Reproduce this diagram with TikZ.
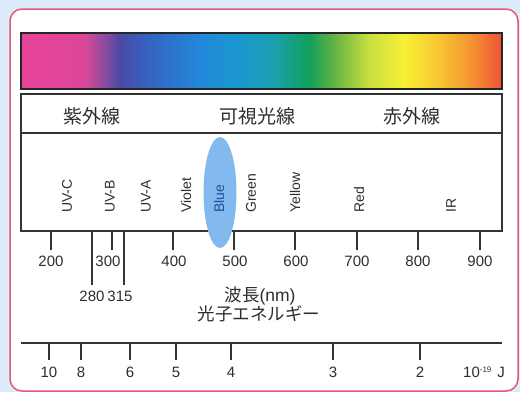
\documentclass[tikz,border=0pt]{standalone}
\usepackage{fontspec}
\setmainfont{Liberation Sans}
\newfontfamily\jp{Noto Sans CJK JP}
\definecolor{bgblue}{HTML}{DDECF9}
\definecolor{bordpink}{HTML}{E0587A}
\definecolor{linegray}{HTML}{333333}
\definecolor{txtgray}{HTML}{2E2E2E}
\definecolor{ellblue}{HTML}{82B9EE}
\definecolor{navy}{HTML}{1F4E99}
\definecolor{sa}{HTML}{E8439A}
\definecolor{sb}{HTML}{DC4698}
\definecolor{sc}{HTML}{8C4C9E}
\definecolor{sd}{HTML}{4B4AA6}
\definecolor{se}{HTML}{3464C2}
\definecolor{sf}{HTML}{2288DA}
\definecolor{sg}{HTML}{1A98CE}
\definecolor{sh}{HTML}{1AA0AC}
\definecolor{si}{HTML}{12A05A}
\definecolor{sj}{HTML}{66B442}
\definecolor{sk}{HTML}{CCE040}
\definecolor{sl}{HTML}{F8F034}
\definecolor{sm}{HTML}{F8C432}
\definecolor{sn}{HTML}{F59432}
\definecolor{so}{HTML}{EE5236}
\pgfdeclarehorizontalshading{spectrum}{100bp}{color(0bp)=(sa); color(25bp)=(sa); color(31.6bp)=(sb); color(33.7bp)=(sc); color(35.3bp)=(sd); color(38.4bp)=(se); color(43.6bp)=(sf); color(47.8bp)=(sg); color(51.4bp)=(sh); color(55bp)=(si); color(57.6bp)=(sj); color(61.3bp)=(sk); color(64.9bp)=(sl); color(68.6bp)=(sm); color(71.7bp)=(sn); color(75bp)=(so); color(100bp)=(so)}
\begin{document}
\begin{tikzpicture}[x=1pt,y=-1pt,
  boxline/.style={line width=1.5pt, draw=linegray},
  tickline/.style={line width=1.4pt, draw=linegray},
  num/.style={inner sep=0pt, text=txtgray, font=\fontsize{15}{15}\selectfont},
  band/.style={rotate=90, anchor=west, inner sep=0pt, text=txtgray, font=\fontsize{14}{14}\selectfont},
  jplabel/.style={inner sep=0pt, text=txtgray, font=\jp\fontsize{19}{19}\selectfont},
  jpsub/.style={inner sep=0pt, text=txtgray, font=\fontsize{17.5}{17.5}\selectfont}]
\useasboundingbox (0,0) rectangle (520,392);
\fill[bgblue] (0,0) rectangle (520,392);
\draw[line width=1.5pt, draw=bordpink, fill=white, rounded corners=12pt] (10,9) rectangle (518,391);
% spectrum bar
\shade[shading=spectrum] (21,33) rectangle (502,89);
\draw[line width=1.6pt, draw=black!85] (21,33) rectangle (502,89);
% label box
\draw[boxline] (21,231) -- (21,94) -- (502,94) -- (502,231) -- cycle;
\draw[boxline] (21,133) -- (502,133);
\node[jplabel] (uv) at (92,116) {紫外線};
\node[jplabel] (vis) at (257,116) {可視光線};
\node[jplabel] (ir) at (412,116) {赤外線};
% blue ellipse
\fill[ellblue] (220,192.5) ellipse [x radius=16.5, y radius=55.5];
% band labels
\node[band] (uvc) at (67,213) {UV-C};
\node[band] (uvb) at (110,213) {UV-B};
\node[band] (uva) at (146,213) {UV-A};
\node[band] (vio) at (186,213) {Violet};
\node[band, text=navy] (blu) at (219,213) {Blue};
\node[band] (grn) at (251,213) {Green};
\node[band] (yel) at (295,213) {Yellow};
\node[band] (red) at (359,213) {Red};
\node[band] (irl) at (451,213) {IR};
% wavelength ticks
\foreach \x in {51,112,173,234,295,357,418,480} \draw[tickline] (\x,231) -- (\x,250);
\foreach \x in {92,124} \draw[tickline] (\x,231) -- (\x,285);
\foreach \x/\l in {51/200,108/300,174/400,235/500,296/600,357/700,418/800,480/900}
  \node[num] (w\l) at (\x,261) {\l};
\node[num] (w280) at (92,296) {280};
\node[num] (w315) at (120,296) {315};
\node[jpsub] (wl) at (260,296) {{\jp 波長}(nm)};
\node[jpsub, font=\jp\fontsize{17.5}{17.5}\selectfont] (pe) at (259,314) {光子エネルギー};
% energy axis
\draw[boxline] (21,343) -- (502,343);
\foreach \x in {49,81,130,176,231,333,420} \draw[tickline] (\x,343) -- (\x,360);
\foreach \x/\l in {49/10,81/8,130/6,176/5,231/4,333/3,420/2}
  \node[num] (e\l) at (\x,372) {\l};
\node[num, anchor=base west] (unit) at (463,377.5) {10\raisebox{5pt}{\fontsize{8}{8}\selectfont -19}\hspace{6pt}J};
\end{tikzpicture}
\end{document}
